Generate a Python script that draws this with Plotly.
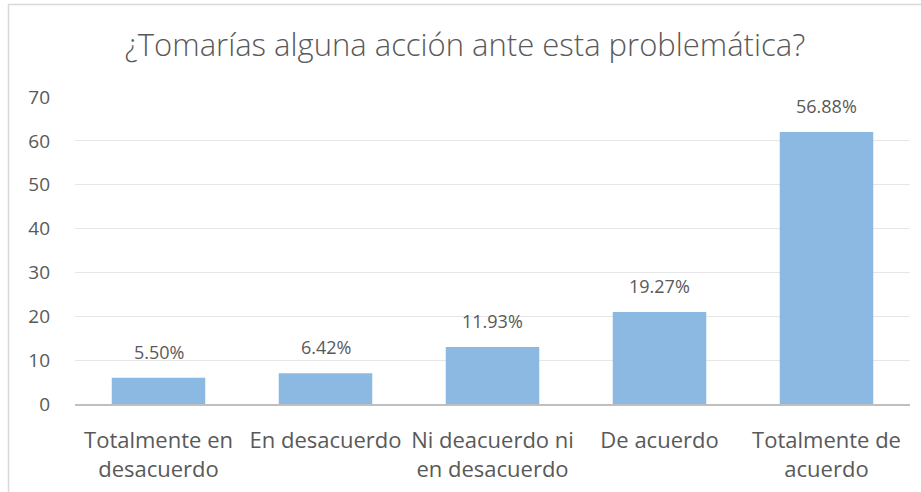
import plotly.graph_objects as go

# 数据
categories = ["Totalmente en<br>desacuerdo", "En desacuerdo", "Ni deacuerdo ni<br>en desacuerdo",
              "De acuerdo", "Totalmente de<br>acuerdo"]
counts = [6, 7, 13, 21, 62]
pct_labels = ["5.50%", "6.42%", "11.93%", "19.27%", "56.88%"]
y_ticks = [0, 10, 20, 30, 40, 50, 60, 70]

FONT = "Open Sans, Liberation Sans, sans-serif"
TXT = "#595959"

fig = go.Figure(go.Bar(
    x=categories,
    y=counts,
    marker=dict(color="#8cb9e1", line=dict(width=0)),
    width=0.56,
))

# 百分比标签
for c, v, t in zip(categories, counts, pct_labels):
    fig.add_annotation(x=c, y=v, text=t, showarrow=False, yanchor="bottom",
                       yshift=12, font=dict(size=18, color=TXT, family=FONT))

W, H = 921, 492
L, R, T, B = 75, 11, 97, 88
pw, ph = W - L - R, H - T - B

fig.update_layout(
    width=W, height=H,
    margin=dict(l=L, r=R, t=T, b=B),
    paper_bgcolor="white", plot_bgcolor="white",
    showlegend=False,
    title=dict(text="¿Tomarías alguna acción ante esta problemática?",
               x=(465 - L) / pw, xanchor="center", y=1 - 45 / H, yanchor="middle",
               xref="paper",
               font=dict(size=31, color=TXT, family=FONT, weight=300)),
    font=dict(family=FONT, color=TXT),
)
fig.update_yaxes(range=[0, 70], tickvals=y_ticks, showgrid=True, gridcolor="#e6e6e6",
                 gridwidth=1, zeroline=False, showline=False, automargin=False,
                 tickfont=dict(size=19, color=TXT), ticks="", ticklabelstandoff=24)
fig.update_xaxes(showline=True, linecolor="#bfbfbf", linewidth=2, ticks="", automargin=False,
                 tickfont=dict(size=22, color=TXT), ticklabelstandoff=16)

# 外框（右、下超出画面）
fig.add_shape(type="rect", xref="paper", yref="paper",
              x0=(8.5 - L) / pw, x1=(930 - L) / pw,
              y0=-(B + 10) / ph, y1=(H - B - 4.5) / ph,
              line=dict(color="#d9d9d9", width=1.5), layer="below")

# 去掉页面默认 8px 边距
fig.write_html("out.html", config={"displayModeBar": False},
               post_script="document.body.style.margin='0';")
